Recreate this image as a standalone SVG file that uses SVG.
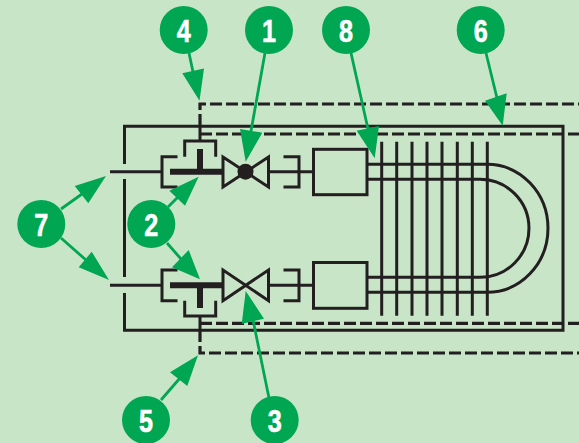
<svg xmlns="http://www.w3.org/2000/svg" width="579" height="443" viewBox="0 0 579 443">
<style>
.l{fill:none;stroke:#231f20;stroke-width:3}
.d{fill:none;stroke:#231f20;stroke-width:3.2;stroke-dasharray:12 4}
.t{fill:none;stroke:#231f20;stroke-width:6}
.a{fill:none;stroke:#00a651;stroke-width:2.8}
.h{fill:#00a651}
.c{fill:#00a651}
.n{fill:#fff;stroke:#fff;stroke-width:.6;font-family:"Liberation Sans",Arial,sans-serif;font-weight:700;font-size:32px;text-anchor:middle}
</style>
<rect width="579" height="443" fill="#c9e5c8"/>
<g id="enclosures">
<path class="d" d="M200 126V104H579"/>
<path class="d" d="M200 134H579"/>
<path class="d" d="M200 323.300H579"/>
<path class="d" d="M200 330V353H579"/>
<path class="l" d="M124.500 164V126.300H563V330.300H124.500V293M124.500 179V277"/>
</g>
<g id="valve-top">
<path class="l" d="M110 171.700H162M177.500 156.700H162V187H177.500"/>
<path class="l" d="M200 126V141M184.700 156.700V141H215.700V156.700"/>
<path class="t" d="M170 171.700H223M200 149V171.700"/>
<path class="l" d="M223 157V187L268.500 157V187Z"/>
<circle cx="245.500" cy="171.700" r="8" fill="#231f20"/>
<path class="l" d="M268.500 171.700H313M283.500 156.700H299V187H283.500"/>
<rect class="l" x="313.500" y="149.300" width="53.500" height="45.400"/>
</g>
<g id="valve-bottom">
<path class="l" d="M110 285.300H162M177.500 270H162V300.700H177.500"/>
<path class="l" d="M200 316V330M184.700 300.700V316H215.700V300.700"/>
<path class="t" d="M170 285.300H223M200 285.300V308"/>
<path class="l" d="M223 270V300.700L268.500 270V300.700Z"/>
<path class="l" d="M268.500 285.300H313M283.500 270H299V300.700H283.500"/>
<rect class="l" x="313.500" y="262.500" width="53.500" height="45.800"/>
</g>
<g id="coil">
<path class="l" d="M367 164.300H487A61 64 0 0 1 487 292.300H367"/>
<path class="l" d="M367 179.300H480A49 49 0 0 1 480 277.300H367"/>
<path class="l" d="M381.700 141.700V315.700M396.700 141.700V315.700M412 141.700V315.700M427 141.700V315.700M442 141.700V315.700M457.300 141.700V315.700M472.300 141.700V315.700M487.300 141.700V315.700"/>
</g>
<g id="connectors">
<path class="a" d="M189 53L193 72"/><polygon class="h" points="182.300,73.300 204,68.600 199.500,100.700"/>
<path class="a" d="M265 53L251 131"/><polygon class="h" points="240,129 262.300,132.700 245.700,161.700"/>
<path class="a" d="M351 53L368 129"/><polygon class="h" points="356.700,130.700 379,126 374.700,158.300"/>
<path class="a" d="M486 53L497 98"/><polygon class="h" points="485,100.700 506.700,93.300 502.700,125.700"/>
<path class="a" d="M61 209L82 194"/><polygon class="h" points="74.700,186 88.300,203.300 106,176"/>
<path class="a" d="M61 238L86 260"/><polygon class="h" points="91.700,251.700 78.700,267.300 109,280"/>
<path class="a" d="M168 207L178 197"/><polygon class="h" points="169.300,190.700 185,205.700 198.700,176.700"/>
<path class="a" d="M167 243L181 259"/><polygon class="h" points="188.700,250 172,267.300 200,279.300"/>
<path class="a" d="M269 398L253 320"/><polygon class="h" points="241.700,324 264,318.700 245.700,291"/>
<path class="a" d="M161 400L180 378"/><polygon class="h" points="170,372.300 187.300,386 198,355.300"/>
</g>
<g id="callout-1"><circle class="c" cx="269" cy="30" r="24"/><text class="n" x="269" y="41.500" textLength="14" lengthAdjust="spacingAndGlyphs">1</text></g>
<g id="callout-2"><circle class="c" cx="151.300" cy="224" r="24"/><text class="n" x="151.300" y="235.500" textLength="14" lengthAdjust="spacingAndGlyphs">2</text></g>
<g id="callout-3"><circle class="c" cx="274.700" cy="420" r="24"/><text class="n" x="274.700" y="431.500" textLength="14" lengthAdjust="spacingAndGlyphs">3</text></g>
<g id="callout-4"><circle class="c" cx="183.700" cy="30" r="24"/><text class="n" x="183.700" y="41.500" textLength="14" lengthAdjust="spacingAndGlyphs">4</text></g>
<g id="callout-5"><circle class="c" cx="146" cy="420" r="24"/><text class="n" x="146" y="431.500" textLength="14" lengthAdjust="spacingAndGlyphs">5</text></g>
<g id="callout-6"><circle class="c" cx="480.700" cy="30" r="24"/><text class="n" x="480.700" y="41.500" textLength="14" lengthAdjust="spacingAndGlyphs">6</text></g>
<g id="callout-7"><circle class="c" cx="41.300" cy="224" r="24"/><text class="n" x="41.300" y="235.500" textLength="14" lengthAdjust="spacingAndGlyphs">7</text></g>
<g id="callout-8"><circle class="c" cx="346" cy="30" r="24"/><text class="n" x="346" y="41.500" textLength="14" lengthAdjust="spacingAndGlyphs">8</text></g>
</svg>
